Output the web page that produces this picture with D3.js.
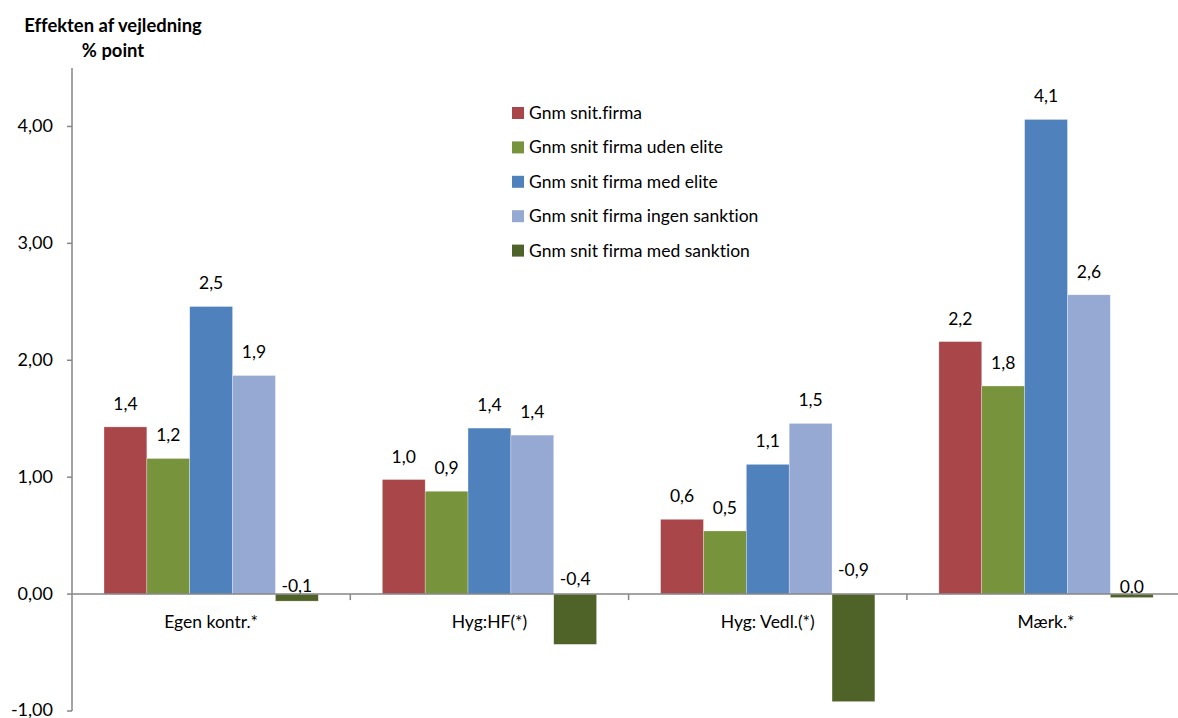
<!DOCTYPE html>
<html>
<head>
<meta charset="utf-8">
<script src="https://cdn.jsdelivr.net/npm/d3@7"></script>
<style>
  body { margin: 0; background: #fff; }
  text { font-family: Lato, "Open Sans", sans-serif; fill: #000; font-variant-ligatures: none; }
</style>
</head>
<body>
<div id="chart"></div>
<script>
// data
const categories = ["Egen kontr.*", "Hyg:HF(*)", "Hyg: Vedl.(*)", "Mærk.*"];
const seriesNames = [
  "Gnm snit.firma",
  "Gnm snit firma uden elite",
  "Gnm snit firma med elite",
  "Gnm snit firma ingen sanktion",
  "Gnm snit firma med sanktion"
];
const seriesColors = ["#A9464A", "#77933C", "#4F81BD", "#95A9D2", "#4F6228"];
const gnmSnit      = [1.43, 0.98, 0.64, 2.16];
const udenElite    = [1.16, 0.88, 0.54, 1.78];
const medElite     = [2.46, 1.42, 1.11, 4.06];
const ingenSankt   = [1.87, 1.36, 1.46, 2.56];
const medSankt     = [-0.06, -0.43, -0.92, -0.03];
const yTicks = [-1, 0, 1, 2, 3, 4];

const seriesValues = [gnmSnit, udenElite, medElite, ingenSankt, medSankt];

const width = 1178, height = 718;
const left = 72, step = 278.3, zeroTop = 68, bottom = 711;

const da = d3.formatLocale({decimal: ",", thousands: ".", grouping: [3], currency: ["", " kr"], minus: "-"});
const fmt1 = da.format(".1f"), fmt2 = da.format(".2f");

const svg = d3.select("#chart").append("svg")
  .attr("width", width).attr("height", height);

const y = d3.scaleLinear().domain([-1, 4.5]).range([bottom, zeroTop]);
const x0 = d3.scaleBand().domain(categories).range([left, left + 4 * step]).padding(0);
const gap = 64;
const x1 = d3.scaleBand().domain(d3.range(seriesNames.length)).range([gap / 2, step - gap / 2]).padding(0);

// bars
seriesValues.forEach((vals, s) => {
  const g = svg.append("g");
  g.selectAll("rect").data(vals).enter().append("rect")
    .attr("x", (d, i) => x0(categories[i]) + x1(s))
    .attr("width", x1.bandwidth())
    .attr("y", d => y(Math.max(0, d)))
    .attr("height", d => Math.abs(y(d) - y(0)))
    .attr("fill", seriesColors[s])
    .attr("stroke", "#ffffff").attr("stroke-width", 0.5).attr("stroke-opacity", 0.6);

  // labels: above the bar for positives, above the zero line for negatives
  g.selectAll("text").data(vals).enter().append("text")
    .attr("x", (d, i) => x0(categories[i]) + x1(s) + x1.bandwidth() / 2)
    .attr("y", d => d >= 0 ? y(d) - 17 : y(0) - 1 - (y(d) - y(0)) * 0.16)
    .attr("text-anchor", "middle")
    .style("font-size", "17.5px")
    .text(d => fmt1(d));
});

// y axis
const axisColor = "#868686";
svg.append("line")
  .attr("x1", left).attr("x2", left).attr("y1", zeroTop).attr("y2", bottom)
  .attr("stroke", axisColor).attr("stroke-width", 1.5);
yTicks.forEach(t => {
  svg.append("line")
    .attr("x1", left - 5).attr("x2", left).attr("y1", y(t)).attr("y2", y(t))
    .attr("stroke", axisColor).attr("stroke-width", 1.5);
  svg.append("text")
    .attr("x", 53).attr("y", Math.min(y(t) + 6, height - 2))
    .attr("text-anchor", "end")
    .style("font-size", "18px")
    .text(fmt2(t));
});

// x axis at zero
svg.append("line")
  .attr("x1", left).attr("x2", left + 4 * step).attr("y1", y(0)).attr("y2", y(0))
  .attr("stroke", axisColor).attr("stroke-width", 1.5);
categories.forEach((c, i) => {
  if (i > 0) {
    svg.append("line")
      .attr("x1", x0(c)).attr("x2", x0(c)).attr("y1", y(0)).attr("y2", y(0) + 6)
      .attr("stroke", axisColor).attr("stroke-width", 1.5);
  }
  svg.append("text")
    .attr("x", x0(c) + step / 2).attr("y", 628)
    .attr("text-anchor", "middle")
    .style("font-size", "17.5px")
    .text(c);
});

// title
svg.append("text").attr("x", 113).attr("y", 32).attr("text-anchor", "middle")
  .style("font-size", "18.4px").style("font-weight", "bold").text("Effekten af vejledning");
svg.append("text").attr("x", 113).attr("y", 57).attr("text-anchor", "middle")
  .style("font-size", "18.4px").style("font-weight", "bold").text("% point");

// legend
const legend = svg.append("g").attr("transform", "translate(512, 113)");
seriesNames.forEach((n, i) => {
  const row = legend.append("g").attr("transform", `translate(0, ${i * 34.4})`);
  row.append("rect").attr("x", 0).attr("y", -6).attr("width", 12).attr("height", 12)
    .attr("fill", seriesColors[i]);
  row.append("text").attr("x", 17).attr("y", 6).style("font-size", "17.5px").text(n);
});
</script>
</body>
</html>
